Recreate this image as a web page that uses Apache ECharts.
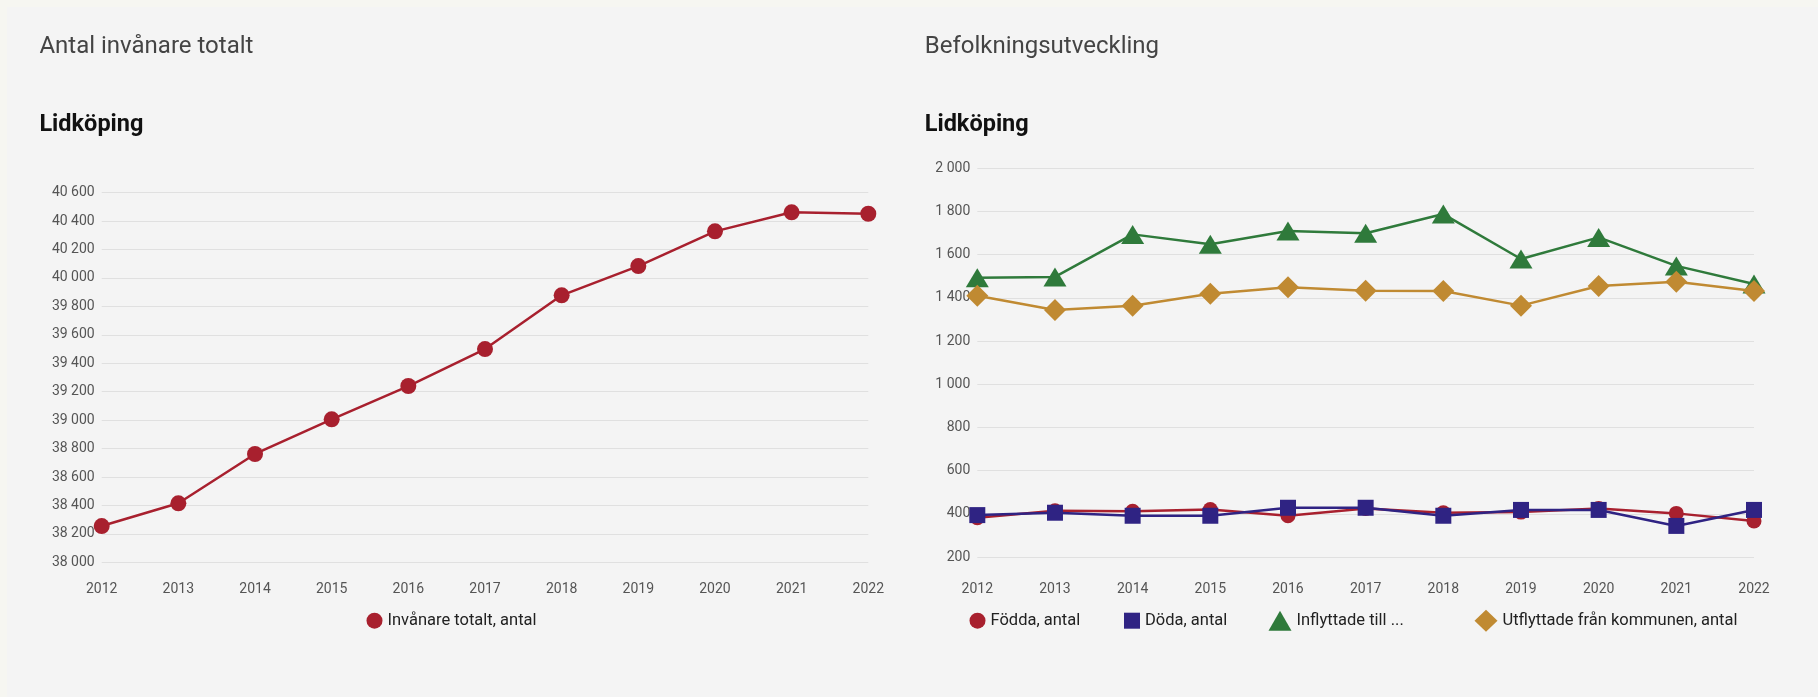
<!DOCTYPE html>
<html>
<head>
<meta charset="utf-8">
<script src="https://cdn.jsdelivr.net/npm/echarts@6/dist/echarts.min.js"></script>
<style>
  html, body { margin: 0; padding: 0; background: #f6f6f1; }
  #panel { position: absolute; left: 7px; top: 7px; right: 0; bottom: 0; background: #f4f4f4; }
  #chart { position: absolute; left: 0; top: 0; width: 1818px; height: 697px; }
</style>
</head>
<body>
<div id="panel"></div>
<div id="chart"></div>
<script>
// Years shown on both x axes
const years = ['2012', '2013', '2014', '2015', '2016', '2017', '2018', '2019', '2020', '2021', '2022'];

// Left panel: total population
const invanareTotalt = [38255, 38415, 38762, 39006, 39240, 39500, 39878, 40084, 40328, 40462, 40452];

// Right panel: population change components
const fodda      = [382, 414, 412, 420, 391, 425, 405, 408, 425, 402, 367];
const doda       = [394, 405, 391, 391, 428, 428, 391, 418, 418, 344, 418];
const inflyttade = [1493, 1497, 1694, 1648, 1710, 1699, 1788, 1580, 1680, 1548, 1464];
const utflyttade = [1410, 1344, 1364, 1419, 1449, 1433, 1432, 1364, 1455, 1475, 1432];

const seriesNames = ['Invånare totalt, antal', 'Födda, antal', 'Döda, antal',
                     'Inflyttade till kommunen, antal', 'Utflyttade från kommunen, antal'];

const RED = '#a8202e', BLUE = '#2f2383', GREEN = '#2f7a3b', GOLD = '#c08a32';
const FONT = 'Roboto, "Noto Sans", sans-serif';

// Swedish-style thousands separator (space)
const fmt = v => String(v).replace(/\B(?=(\d{3})+(?!\d))/g, ' ');

const axisText = { color: '#555', fontSize: 14, fontFamily: FONT };

const chart = echarts.init(document.getElementById('chart'), null, { renderer: 'canvas' });

function legendFor(name, icon, left, w, h, label) {
  return {
    data: [{ name: name, icon: icon }],
    left: left, top: 620.7 - Math.max(h, 17) / 2,
    padding: 0, itemWidth: w, itemHeight: h,
    formatter: label ? (() => label) : undefined,
    textStyle: { color: '#222', fontSize: 16.5, fontFamily: FONT },
    selectedMode: false
  };
}

function titleFor(text, left, top, size, weight, color) {
  return { text: text, left: left, top: top, padding: 0,
           textStyle: { color: color, fontSize: size, fontWeight: weight, fontFamily: FONT } };
}

chart.setOption({
  backgroundColor: 'transparent',
  animation: false,
  title: [
    titleFor('Antal invånare totalt', 39.4, 35, 24, 'normal', '#444'),
    titleFor('Lidköping', 39.4, 113, 23.5, 'bold', '#111'),
    titleFor('Befolkningsutveckling', 924.7, 35, 24, 'normal', '#444'),
    titleFor('Lidköping', 924.7, 113, 23.5, 'bold', '#111')
  ],
  legend: [
    legendFor(seriesNames[0], 'circle', 366.5, 16, 16),
    legendFor(seriesNames[1], 'circle', 969.5, 16, 16),
    legendFor(seriesNames[2], 'rect', 1124, 16, 16),
    legendFor(seriesNames[3], 'triangle', 1268.5, 23, 20, 'Inflyttade till ...'),
    legendFor(seriesNames[4], 'diamond', 1474.5, 23, 22)
  ],
  grid: [
    { left: 101.7, right: 949.7, top: 192.7, bottom: 134.7 },
    { left: 977.3, right: 64, top: 168.3, bottom: 140 }
  ],
  xAxis: [
    { type: 'category', gridIndex: 0, data: years, boundaryGap: false,
      axisLine: { show: false }, axisTick: { show: false },
      axisLabel: Object.assign({ margin: 20 }, axisText) },
    { type: 'category', gridIndex: 1, data: years, boundaryGap: false,
      axisLine: { show: false }, axisTick: { show: false },
      axisLabel: Object.assign({ margin: 25 }, axisText) }
  ],
  yAxis: [
    { type: 'value', gridIndex: 0, min: 38000, max: 40600, interval: 200,
      axisLine: { show: false }, axisTick: { show: false },
      splitLine: { lineStyle: { color: '#e0e0e0', width: 1.2 } },
      axisLabel: Object.assign({ margin: 7, formatter: fmt }, axisText) },
    { type: 'value', gridIndex: 1, min: 200, max: 2000, interval: 200,
      axisLine: { show: false }, axisTick: { show: false },
      splitLine: { lineStyle: { color: '#e0e0e0', width: 1.2 } },
      axisLabel: Object.assign({ margin: 7, formatter: fmt }, axisText) }
  ],
  series: [
    { name: seriesNames[0], type: 'line', xAxisIndex: 0, yAxisIndex: 0, data: invanareTotalt,
      symbol: 'circle', symbolSize: 16, color: RED, lineStyle: { width: 2.5 } },
    { name: seriesNames[1], type: 'line', xAxisIndex: 1, yAxisIndex: 1, data: fodda,
      symbol: 'circle', symbolSize: 15, color: RED, lineStyle: { width: 2.5 } },
    { name: seriesNames[2], type: 'line', xAxisIndex: 1, yAxisIndex: 1, data: doda,
      symbol: 'rect', symbolSize: 16, color: BLUE, lineStyle: { width: 2.5 } },
    { name: seriesNames[3], type: 'line', xAxisIndex: 1, yAxisIndex: 1, data: inflyttade,
      symbol: 'triangle', symbolSize: [23, 19], color: GREEN, lineStyle: { width: 2.5 } },
    { name: seriesNames[4], type: 'line', xAxisIndex: 1, yAxisIndex: 1, data: utflyttade,
      symbol: 'diamond', symbolSize: [22, 22], color: GOLD, lineStyle: { width: 2.5 } }
  ]
});
</script>
</body>
</html>
